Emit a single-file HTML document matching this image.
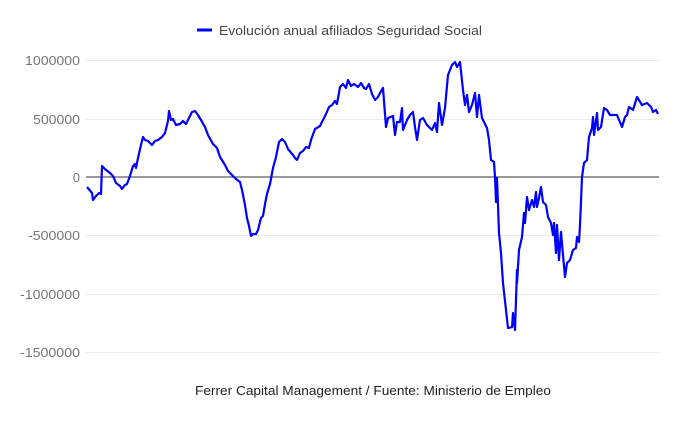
<!DOCTYPE html>
<html><head><meta charset="utf-8"><style>
body{margin:0;background:#fff;}
svg text{font-family:"Liberation Sans",sans-serif;}
</style></head><body>
<svg width="680" height="420" xmlns="http://www.w3.org/2000/svg">
<rect width="680" height="420" fill="#fff"/>
<g stroke="#ebebeb" stroke-width="1">
<line x1="86" x2="659" y1="60.5" y2="60.5"/>
<line x1="86" x2="659" y1="119.5" y2="119.5"/>
<line x1="86" x2="659" y1="235.5" y2="235.5"/>
<line x1="86" x2="659" y1="294.5" y2="294.5"/>
<line x1="86" x2="659" y1="352.5" y2="352.5"/>
</g>
<line x1="86" x2="659" y1="177" y2="177" stroke="#333" stroke-width="1"/>
<g font-size="13" fill="#757575" text-anchor="end">
<text x="80" y="65" textLength="55" lengthAdjust="spacingAndGlyphs">1000000</text>
<text x="80" y="124" textLength="47" lengthAdjust="spacingAndGlyphs">500000</text>
<text x="80" y="182">0</text>
<text x="80" y="240" textLength="52" lengthAdjust="spacingAndGlyphs">-500000</text>
<text x="80" y="299" textLength="60" lengthAdjust="spacingAndGlyphs">-1000000</text>
<text x="80" y="357" textLength="60" lengthAdjust="spacingAndGlyphs">-1500000</text>
</g>
<line x1="197" x2="212" y1="30" y2="30" stroke="#0000ff" stroke-width="3"/>
<text x="219" y="35" font-size="13" fill="#444" textLength="263" lengthAdjust="spacingAndGlyphs">Evolución anual afiliados Seguridad Social</text>
<text x="195" y="395" font-size="13" fill="#222" textLength="356" lengthAdjust="spacingAndGlyphs">Ferrer Capital Management / Fuente: Ministerio de Empleo</text>
<polyline fill="none" stroke="#0000ff" stroke-width="2.2" stroke-linejoin="round" points="
87,187 92,193 93,200 96,196 99,193 101,194 102,166 105,169 110,173 113,176 116,183 120,186 122,189 125,185 127,184 130,176 133,166 135,164 136,168 138,158 141,145 143,137 145,140 148,141 150,143 152,145 155,141 158,140 162,137 165,133 168,121 169,111 171,120 173,119 176,125 180,124 183,121 186,124 188,120 192,112 195,111 198,115 201,120 205,127 208,135 213,144 217,148 220,157 225,165 228,171 232,175 236,179 240,182 242,190 245,205 247,218 249,226 251,236 253,234 256,234 258,230 261,218 263,216 265,204 267,194 270,184 273,168 276,157 279,142 282,139 285,142 288,149 293,155 295,158 297,160 300,153 303,151 306,147 309,148 311,140 315,129 320,126 323,120 326,114 329,107 332,105 335,101 337,104 340,87 343,84 346,88 348,80 351,86 354,84 358,87 361,83 364,88 366,89 369,84 372,94 375,100 378,97
380,93 383,88 386,127 388,118 393,116 395,135 397,122 400,122 402,108 403,130 407,120 410,115 413,112 415,127 417,140 420,120 423,118 427,125 432,130 435,123 437,132 439,103 442,125 445,108 448,75 452,65 455,62 457,67 460,62 463,90 465,105 467,95 469,112 472,105 475,93 477,117 479,95 482,118 487,128 489,140 491,160 494,162 495,177 496,202 497,178 499,233 501,253 503,283 506,310 508,328 512,327 513,313 515,330 517,270 517,283 519,250 522,237 524,213 525,223 527,197 529,210 532,200 534,207 536,192 537,207 539,198 541,187 543,202 546,205 548,217 551,223 553,235 554,223 556,253 557,225 559,260 561,232 563,255 565,277 567,263 570,260 573,250 576,248 577,237 579,242 580,225 582,177 584,163 587,160 589,137 592,128 593,117 594,135 597,113 598,130 601,127 604,108 607,110 610,115 617,115 622,127 625,117 627,115 629,107 633,110 637,97 642,105 647,103 651,107 653,112 656,110 658,114"/>
</svg>
</body></html>
